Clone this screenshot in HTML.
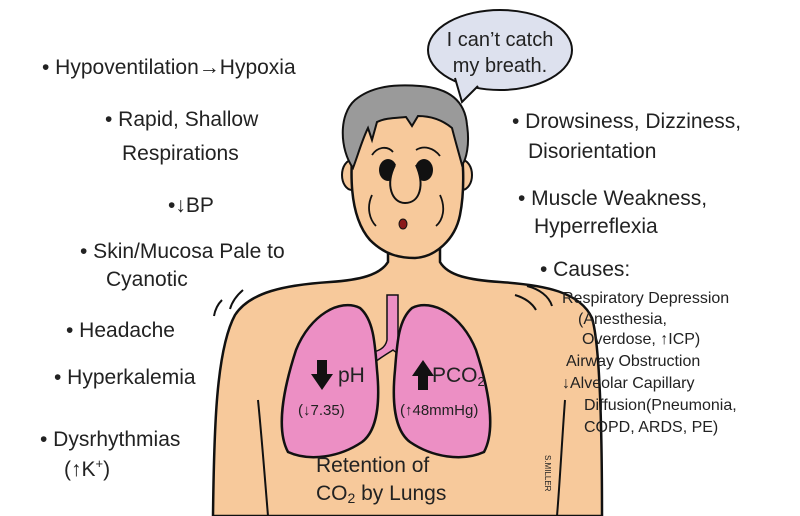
<!DOCTYPE html>
<html><head><meta charset="utf-8"><style>
body{margin:0;background:#fff}
svg{display:block}
text{font-family:"Liberation Sans",sans-serif;fill:#222}
</style></head><body>
<svg width="800" height="516" viewBox="0 0 800 516" xmlns="http://www.w3.org/2000/svg">
<!-- body -->
<path d="M213 516 C214 430 216 350 235 315 C250 292 285 285 330 282 C360 280 380 275 388 262 L388 238 L440 238 L440 262 C448 276 470 280 500 282 C545 285 580 292 592 318 C600 345 602 430 602 516 Z" fill="#f7c99b" stroke="#111" stroke-width="2.5"/>
<path d="M258 400 C262 440 265 480 268 516 M565 400 C562 440 560 480 557 516" fill="none" stroke="#111" stroke-width="2"/>
<!-- ears -->
<ellipse cx="352" cy="175" rx="10" ry="15" fill="#f7c99b" stroke="#111" stroke-width="2"/>
<ellipse cx="462" cy="175" rx="10" ry="15" fill="#f7c99b" stroke="#111" stroke-width="2"/>
<!-- face -->
<path d="M354 130 C350 170 348 215 370 240 C385 255 400 258 415 258 C435 257 455 240 460 215 C465 190 464 155 458 125 C440 100 380 100 354 130 Z" fill="#f7c99b" stroke="#111" stroke-width="2.5"/>
<!-- hair -->
<path d="M353 168 C340 150 338 115 355 100 C372 86 395 84 420 86 C448 88 465 100 467 125 C470 145 466 160 462 165 C458 150 455 140 452 128 C440 118 428 116 418 116 L412 126 L406 117 C395 118 385 118 377 122 L372 140 L368 128 C362 140 358 155 353 168 Z" fill="#9a9a9a" stroke="#111" stroke-width="2"/>
<!-- brows -->
<path d="M372 155 C378 146 388 146 393 152 M416 150 C424 145 434 148 440 156" fill="none" stroke="#111" stroke-width="1.8"/>
<ellipse cx="388" cy="170" rx="9" ry="11" fill="#111"/>
<ellipse cx="424" cy="170" rx="9" ry="11" fill="#111"/>
<path d="M395 165 C385 185 392 203 405 203 C420 203 425 185 416 165" fill="#f7c99b" stroke="#111" stroke-width="2"/>
<ellipse cx="403" cy="224" rx="4" ry="5" fill="#8b1a1a" stroke="#111"/>
<path d="M372 195 C366 208 370 220 376 226 M440 195 C446 208 443 220 436 226" fill="none" stroke="#111" stroke-width="1.8"/>
<!-- lungs -->
<path d="M387 295 L398 295 L398 340 C400 350 410 352 415 352 L410 362 C402 356 395 352 393 350 C390 352 383 356 375 362 L370 352 C375 352 385 350 387 340 Z" fill="#ec8fc4" stroke="#111" stroke-width="1.5"/>
<path d="M360 308 C340 298 310 315 296 350 C283 390 276 430 288 452 C310 462 340 457 362 442 C378 430 380 400 377 370 C375 345 374 320 360 308Z" fill="#ec8fc4" stroke="#111" stroke-width="2.5"/>
<path d="M412 308 C432 298 462 315 476 350 C489 390 496 430 484 452 C462 462 432 457 410 442 C394 430 392 400 395 370 C397 345 398 320 412 308Z" fill="#ec8fc4" stroke="#111" stroke-width="2.5"/>
<path d="M317 360 h10 v14 h6 l-11 16 l-11 -16 h6z" fill="#111"/>
<text x="338" y="382" font-size="21">pH</text>
<text x="298" y="415" font-size="15">(↓7.35)</text>
<path d="M418 390 h10 v-14 h6 l-11 -16 l-11 16 h6z" fill="#111"/>
<text x="432" y="382" font-size="21">PCO<tspan font-size="13" dy="4">2</tspan></text>
<text x="400" y="415" font-size="15">(↑48mmHg)</text>
<text x="316" y="472" font-size="21">Retention of</text>
<text x="316" y="500" font-size="21">CO<tspan font-size="14" dy="3">2</tspan><tspan dy="-3"> by Lungs</tspan></text>
<!-- wiggles -->
<path d="M222 300 C217 305 215 310 214 316 M243 290 C236 296 232 302 230 309 M515 295 C525 298 532 303 536 310 M527 286 C539 289 549 296 552 306" fill="none" stroke="#111" stroke-width="2"/>
<!-- bubble -->
<ellipse cx="500" cy="50" rx="72" ry="40" fill="#dde1ee" stroke="#111" stroke-width="2"/>
<path d="M455 78 L462 102 L478 86" fill="#dde1ee" stroke="#111" stroke-width="2"/>
<text x="500" y="46" font-size="20" text-anchor="middle">I can’t catch</text>
<text x="500" y="72" font-size="20" text-anchor="middle">my breath.</text>
<!-- left list -->
<g font-size="21">
<text x="42" y="74">• Hypoventilation→Hypoxia</text>
<text x="105" y="126">• Rapid, Shallow</text>
<text x="122" y="160">Respirations</text>
<text x="168" y="212">•↓BP</text>
<text x="80" y="258">• Skin/Mucosa Pale to</text>
<text x="106" y="286">Cyanotic</text>
<text x="66" y="337">• Headache</text>
<text x="54" y="384">• Hyperkalemia</text>
<text x="40" y="446">• Dysrhythmias</text>
<text x="64" y="476">(↑K<tspan font-size="13" dy="-8">+</tspan><tspan dy="8">)</tspan></text>
<!-- right list -->
<text x="512" y="128">• Drowsiness, Dizziness,</text>
<text x="528" y="158">Disorientation</text>
<text x="518" y="205">• Muscle Weakness,</text>
<text x="534" y="233">Hyperreflexia</text>
<text x="540" y="276">• Causes:</text>
</g>
<g font-size="16">
<text x="562" y="303">Respiratory Depression</text>
<text x="578" y="324">(Anesthesia,</text>
<text x="582" y="344">Overdose, ↑ICP)</text>
<text x="566" y="366">Airway Obstruction</text>
<text x="562" y="388">↓Alveolar Capillary</text>
<text x="584" y="410">Diffusion(Pneumonia,</text>
<text x="584" y="432">COPD, ARDS, PE)</text>
</g>
<text x="0" y="0" font-size="8" transform="translate(545,455) rotate(90)">S.MILLER</text>
</svg>
</body></html>
